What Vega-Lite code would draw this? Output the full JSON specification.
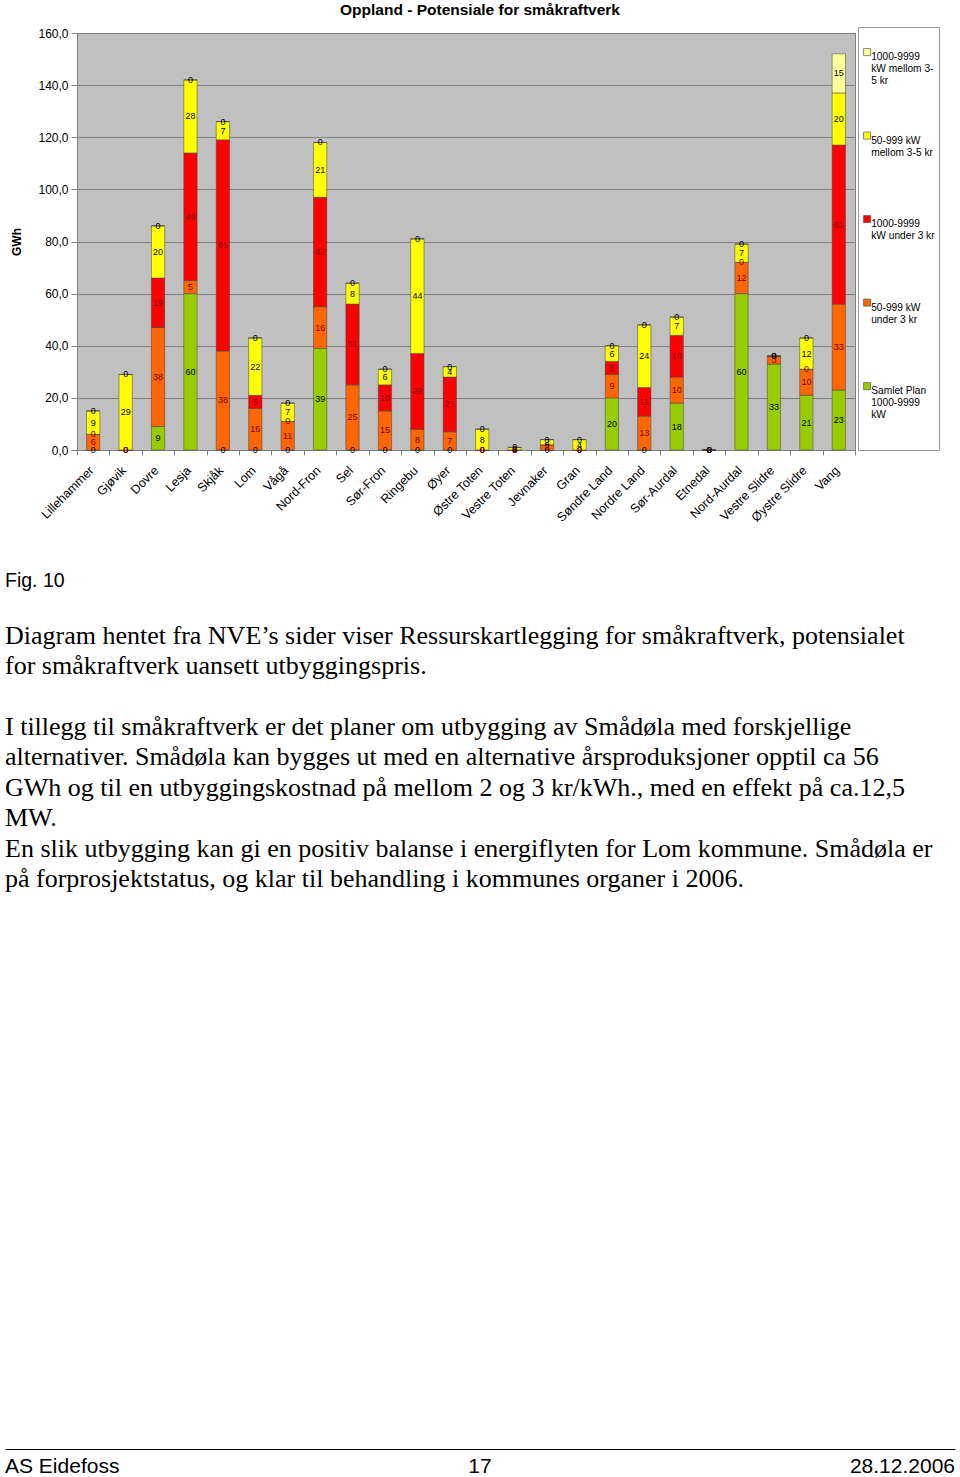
{
  "$schema": "https://vega.github.io/schema/vega-lite/v6.json",
  "padding": {"left": 5, "top": 2, "right": 0, "bottom": 0},
  "background": "white",
  "config": {
    "font": "Liberation Sans",
    "view": {"stroke": null},
    "concat": {"spacing": 46}
  },
  "vconcat": [
    {
      "title": {"text": "Oppland  - Potensiale for småkraftverk", "fontSize": 15.5, "fontWeight": "bold", "font": "Liberation Sans", "anchor": "middle", "offset": 9, "dx": 14, "color": "black"},
      "width": 778,
      "height": 417,
      "view": {"fill": "#C0C0C0", "stroke": "#808080"},
      "data": {"values": [
        {"kommune": "Lillehammer", "Samlet Plan 1000-9999 kW": 0, "50-999 kW under 3 kr": 6, "1000-9999 kW under 3 kr": 0, "50-999 kW mellom 3-5 kr": 9, "1000-9999 kW mellom 3-5 kr": 0},
        {"kommune": "Gjøvik", "Samlet Plan 1000-9999 kW": 0, "50-999 kW under 3 kr": 0, "1000-9999 kW under 3 kr": 0, "50-999 kW mellom 3-5 kr": 29, "1000-9999 kW mellom 3-5 kr": 0},
        {"kommune": "Dovre", "Samlet Plan 1000-9999 kW": 9, "50-999 kW under 3 kr": 38, "1000-9999 kW under 3 kr": 19, "50-999 kW mellom 3-5 kr": 20, "1000-9999 kW mellom 3-5 kr": 0},
        {"kommune": "Lesja", "Samlet Plan 1000-9999 kW": 60, "50-999 kW under 3 kr": 5, "1000-9999 kW under 3 kr": 49, "50-999 kW mellom 3-5 kr": 28, "1000-9999 kW mellom 3-5 kr": 0},
        {"kommune": "Skjåk", "Samlet Plan 1000-9999 kW": 0, "50-999 kW under 3 kr": 38, "1000-9999 kW under 3 kr": 81, "50-999 kW mellom 3-5 kr": 7, "1000-9999 kW mellom 3-5 kr": 0},
        {"kommune": "Lom", "Samlet Plan 1000-9999 kW": 0, "50-999 kW under 3 kr": 16, "1000-9999 kW under 3 kr": 5, "50-999 kW mellom 3-5 kr": 22, "1000-9999 kW mellom 3-5 kr": 0},
        {"kommune": "Vågå", "Samlet Plan 1000-9999 kW": 0, "50-999 kW under 3 kr": 11, "1000-9999 kW under 3 kr": 0, "50-999 kW mellom 3-5 kr": 7, "1000-9999 kW mellom 3-5 kr": 0},
        {"kommune": "Nord-Fron", "Samlet Plan 1000-9999 kW": 39, "50-999 kW under 3 kr": 16, "1000-9999 kW under 3 kr": 42, "50-999 kW mellom 3-5 kr": 21, "1000-9999 kW mellom 3-5 kr": 0},
        {"kommune": "Sel", "Samlet Plan 1000-9999 kW": 0, "50-999 kW under 3 kr": 25, "1000-9999 kW under 3 kr": 31, "50-999 kW mellom 3-5 kr": 8, "1000-9999 kW mellom 3-5 kr": 0},
        {"kommune": "Sør-Fron", "Samlet Plan 1000-9999 kW": 0, "50-999 kW under 3 kr": 15, "1000-9999 kW under 3 kr": 10, "50-999 kW mellom 3-5 kr": 6, "1000-9999 kW mellom 3-5 kr": 0},
        {"kommune": "Ringebu", "Samlet Plan 1000-9999 kW": 0, "50-999 kW under 3 kr": 8, "1000-9999 kW under 3 kr": 29, "50-999 kW mellom 3-5 kr": 44, "1000-9999 kW mellom 3-5 kr": 0},
        {"kommune": "Øyer", "Samlet Plan 1000-9999 kW": 0, "50-999 kW under 3 kr": 7, "1000-9999 kW under 3 kr": 21, "50-999 kW mellom 3-5 kr": 4, "1000-9999 kW mellom 3-5 kr": 0},
        {"kommune": "Østre Toten", "Samlet Plan 1000-9999 kW": 0, "50-999 kW under 3 kr": 0, "1000-9999 kW under 3 kr": 0, "50-999 kW mellom 3-5 kr": 8, "1000-9999 kW mellom 3-5 kr": 0},
        {"kommune": "Vestre Toten", "Samlet Plan 1000-9999 kW": 0, "50-999 kW under 3 kr": 0, "1000-9999 kW under 3 kr": 0, "50-999 kW mellom 3-5 kr": 1, "1000-9999 kW mellom 3-5 kr": 0},
        {"kommune": "Jevnaker", "Samlet Plan 1000-9999 kW": 0, "50-999 kW under 3 kr": 2, "1000-9999 kW under 3 kr": 0, "50-999 kW mellom 3-5 kr": 2, "1000-9999 kW mellom 3-5 kr": 0},
        {"kommune": "Gran", "Samlet Plan 1000-9999 kW": 0, "50-999 kW under 3 kr": 0, "1000-9999 kW under 3 kr": 0, "50-999 kW mellom 3-5 kr": 4, "1000-9999 kW mellom 3-5 kr": 0},
        {"kommune": "Søndre Land", "Samlet Plan 1000-9999 kW": 20, "50-999 kW under 3 kr": 9, "1000-9999 kW under 3 kr": 5, "50-999 kW mellom 3-5 kr": 6, "1000-9999 kW mellom 3-5 kr": 0},
        {"kommune": "Nordre Land", "Samlet Plan 1000-9999 kW": 0, "50-999 kW under 3 kr": 13, "1000-9999 kW under 3 kr": 11, "50-999 kW mellom 3-5 kr": 24, "1000-9999 kW mellom 3-5 kr": 0},
        {"kommune": "Sør-Aurdal", "Samlet Plan 1000-9999 kW": 18, "50-999 kW under 3 kr": 10, "1000-9999 kW under 3 kr": 16, "50-999 kW mellom 3-5 kr": 7, "1000-9999 kW mellom 3-5 kr": 0},
        {"kommune": "Etnedal", "Samlet Plan 1000-9999 kW": 0, "50-999 kW under 3 kr": 0, "1000-9999 kW under 3 kr": 0, "50-999 kW mellom 3-5 kr": 0, "1000-9999 kW mellom 3-5 kr": 0},
        {"kommune": "Nord-Aurdal", "Samlet Plan 1000-9999 kW": 60, "50-999 kW under 3 kr": 12, "1000-9999 kW under 3 kr": 0, "50-999 kW mellom 3-5 kr": 7, "1000-9999 kW mellom 3-5 kr": 0},
        {"kommune": "Vestre Slidre", "Samlet Plan 1000-9999 kW": 33, "50-999 kW under 3 kr": 3, "1000-9999 kW under 3 kr": 0, "50-999 kW mellom 3-5 kr": 0, "1000-9999 kW mellom 3-5 kr": 0},
        {"kommune": "Øystre Slidre", "Samlet Plan 1000-9999 kW": 21, "50-999 kW under 3 kr": 10, "1000-9999 kW under 3 kr": 0, "50-999 kW mellom 3-5 kr": 12, "1000-9999 kW mellom 3-5 kr": 0},
        {"kommune": "Vang", "Samlet Plan 1000-9999 kW": 23, "50-999 kW under 3 kr": 33, "1000-9999 kW under 3 kr": 61, "50-999 kW mellom 3-5 kr": 20, "1000-9999 kW mellom 3-5 kr": 15}
      ]},
      "transform": [
        {"fold": ["Samlet Plan 1000-9999 kW", "50-999 kW under 3 kr", "1000-9999 kW under 3 kr", "50-999 kW mellom 3-5 kr", "1000-9999 kW mellom 3-5 kr"], "as": ["serie", "GWh"]},
        {"stack": "GWh", "groupby": ["kommune"], "as": ["g0", "g1"]}
      ],
      "encoding": {
        "x": {
          "field": "kommune", "type": "nominal",
          "sort": ["Lillehammer", "Gjøvik", "Dovre", "Lesja", "Skjåk", "Lom", "Vågå", "Nord-Fron", "Sel", "Sør-Fron", "Ringebu", "Øyer", "Østre Toten", "Vestre Toten", "Jevnaker", "Gran", "Søndre Land", "Nordre Land", "Sør-Aurdal", "Etnedal", "Nord-Aurdal", "Vestre Slidre", "Øystre Slidre", "Vang"],
          "scale": {"paddingInner": 0, "paddingOuter": 0},
          "axis": {"title": null, "labelAngle": -45, "labelAlign": "right", "labelBaseline": "middle", "labelFontSize": 12.5, "labelColor": "black", "labelFont": "Liberation Sans", "tickBand": "extent", "tickColor": "#808080", "tickSize": 5, "domainColor": "#808080", "labelPadding": 13, "labelOffset": -2, "grid": false}
        }
      },
      "layer": [
        {
          "mark": {"type": "bar", "width": {"band": 0.41}, "stroke": "#404040", "strokeWidth": 0.5},
          "encoding": {
            "y": {"field": "g0", "type": "quantitative", "scale": {"domain": [0, 160], "nice": false},
              "axis": {"title": "GWh", "titleFontSize": 12, "titleFontWeight": "bold", "titleColor": "black", "titlePadding": 14, "values": [0, 20, 40, 60, 80, 100, 120, 140, 160], "labelExpr": "replace(format(datum.value, '.1f'), '.', ',')", "labelFontSize": 12, "labelColor": "black", "tickColor": "#808080", "tickSize": 6, "labelPadding": 3, "domainColor": "#808080", "gridColor": "#808080", "gridWidth": 1}},
            "y2": {"field": "g1"},
            "color": {
              "field": "serie", "type": "nominal",
              "scale": {"domain": ["1000-9999 kW mellom 3-5 kr", "50-999 kW mellom 3-5 kr", "1000-9999 kW under 3 kr", "50-999 kW under 3 kr", "Samlet Plan 1000-9999 kW"], "range": ["#FFFF99", "#FFFF00", "#FF0000", "#FF6600", "#99CC00"]},
              "legend": {
                "title": " ", "titleFontSize": 8, "titlePadding": 8,
                "orient": "none", "legendX": 781, "legendY": -6,
                "padding": 4, "strokeColor": "#999999", "fillColor": "white",
                "symbolType": "square", "symbolSize": 50, "symbolStrokeColor": "#555555", "symbolStrokeWidth": 0.7,
                "labelFontSize": 10.2, "labelFont": "Liberation Sans", "labelColor": "black", "labelLimit": 200, "labelLineHeight": 14, "labelBaseline": "top", "labelOffset": -1,
                "rowPadding": 43.5,
                "labelExpr": "datum.label == '1000-9999 kW mellom 3-5 kr' ? ['1000-9999', 'kW mellom 3-', '5 kr'] : datum.label == '50-999 kW mellom 3-5 kr' ? ['50-999 kW', 'mellom 3-5 kr', ' '] : datum.label == '1000-9999 kW under 3 kr' ? ['1000-9999', 'kW under 3 kr', ' '] : datum.label == '50-999 kW under 3 kr' ? ['50-999 kW', 'under 3 kr', ' '] : ['Samlet Plan', '1000-9999', 'kW', ' ', ' ']"
              }
            }
          }
        },
        {
          "transform": [
            {"fold": ["g0", "g1"], "as": ["kant", "pos"]},
            {"aggregate": [{"op": "mean", "field": "pos", "as": "midt"}], "groupby": ["kommune", "serie", "GWh"]}
          ],
          "mark": {"type": "text", "fontSize": 9, "font": "Liberation Sans", "baseline": "middle"},
          "encoding": {
            "y": {"field": "midt", "type": "quantitative", "scale": {"domain": [0, 160], "nice": false},
              "axis": {"title": "GWh", "titleFontSize": 12, "titleFontWeight": "bold", "titleColor": "black", "titlePadding": 14, "values": [0, 20, 40, 60, 80, 100, 120, 140, 160], "labelExpr": "replace(format(datum.value, '.1f'), '.', ',')", "labelFontSize": 12, "labelColor": "black", "tickColor": "#808080", "tickSize": 6, "labelPadding": 3, "domainColor": "#808080", "gridColor": "#808080", "gridWidth": 1}},
            "text": {"field": "GWh", "type": "quantitative", "format": "d"},
            "color": {"condition": {"test": "datum.serie == '50-999 kW under 3 kr' || datum.serie == '1000-9999 kW under 3 kr'", "value": "#800000"}, "value": "black"}
          }
        }
      ]
    },
    {
      "width": 806,
      "height": 28,
      "view": {"stroke": null},
      "title": {
        "text": "Fig. 10",
        "subtitle": [
          "Diagram hentet fra NVE’s sider viser Ressurskartlegging for småkraftverk, potensialet",
          "for småkraftverk uansett utbyggingspris.",
          "\u200b",
          "I tillegg til småkraftverk er det planer om utbygging av Smådøla med forskjellige",
          "alternativer. Smådøla kan bygges ut med en alternative årsproduksjoner opptil ca 56",
          "GWh og til en utbyggingskostnad på mellom 2 og 3 kr/kWh., med en effekt på ca.12,5",
          "MW.",
          "En slik utbygging kan gi en positiv balanse i energiflyten for Lom kommune. Smådøla er",
          "på forprosjektstatus, og klar til behandling i kommunes organer i 2006."
        ],
        "anchor": "start", "frame": "group", "dx": -72,
        "font": "Liberation Sans", "fontSize": 19.5, "fontWeight": "normal", "color": "black",
        "subtitleFont": "Liberation Serif", "subtitleFontSize": 26, "subtitleColor": "black", "subtitleLineHeight": 30.4, "subtitlePadding": 31,
        "offset": 556
      },
      "data": {"values": [{"tekst": "AS Eidefoss"}, {"tekst": "17"}, {"tekst": "28.12.2006"}]},
      "encoding": {
        "x": {"field": "tekst", "type": "nominal", "sort": ["AS Eidefoss", "17", "28.12.2006"], "scale": {"type": "point", "padding": 0, "range": [-72, 878]},
          "axis": {"orient": "top", "labels": false, "ticks": false, "domain": true, "domainColor": "black", "domainWidth": 1, "title": null, "grid": false}}
      },
      "layer": [
        {"transform": [{"filter": "datum.tekst == 'AS Eidefoss'"}], "mark": {"type": "text", "align": "left", "fontSize": 21, "font": "Liberation Sans", "color": "black", "dy": 4}, "encoding": {"text": {"field": "tekst"}}},
        {"transform": [{"filter": "datum.tekst == '17'"}], "mark": {"type": "text", "align": "center", "fontSize": 21, "font": "Liberation Sans", "color": "black", "dy": 4}, "encoding": {"text": {"field": "tekst"}}},
        {"transform": [{"filter": "datum.tekst == '28.12.2006'"}], "mark": {"type": "text", "align": "right", "fontSize": 21, "font": "Liberation Sans", "color": "black", "dy": 4}, "encoding": {"text": {"field": "tekst"}}}
      ]
    }
  ]
}
